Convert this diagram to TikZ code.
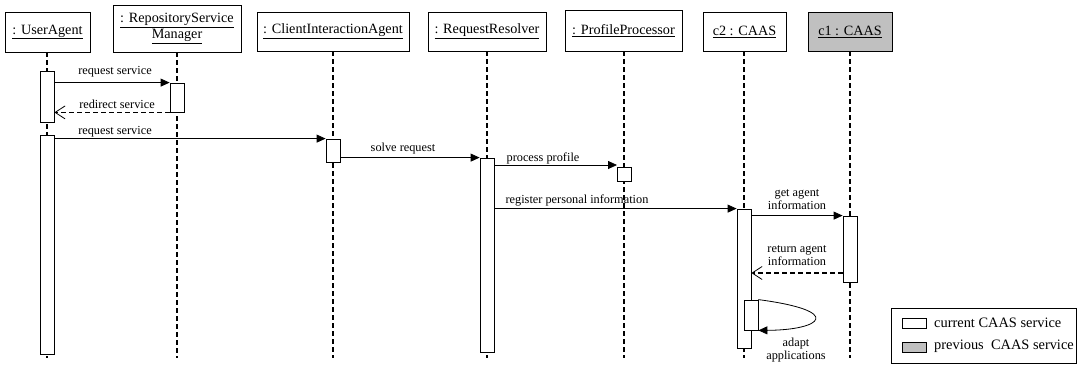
\documentclass[tikz,border=0pt]{standalone}
\usepackage{fontspec}
\setmainfont{Liberation Serif}
\usetikzlibrary{arrows.meta}
\begin{document}
\begin{tikzpicture}[x=1pt,y=-1pt,
  obj/.style={draw, line width=0.8pt, inner sep=1pt, align=center,
    font=\fontsize{14.2}{17}\selectfont},
  lifeline/.style={line width=1.3pt, dash pattern=on 5pt off 3pt},
  act/.style={draw, line width=0.8pt, fill=white, minimum width=14pt, inner sep=0pt},
  call/.style={line width=0.8pt, -{Triangle[length=9pt,width=8pt]}},
  reply/.style={line width=1.2pt, dash pattern=on 5pt off 3pt,
    -{Straight Barb[length=10pt,width=13pt,line width=0.8pt]}},
  lbl/.style={inner sep=0pt, align=center, font=\fontsize{12.3}{13}\selectfont},
  legtxt/.style={inner sep=0pt, anchor=west, font=\fontsize{14.4}{17}\selectfont},
  legbox/.style={draw, line width=0.8pt, minimum width=24pt, minimum height=10pt, inner sep=0pt}
]
\useasboundingbox (0,0) rectangle (1077,365);

% object boxes
\node[obj, minimum width=85pt, minimum height=40pt] (ua) at (47.5,32) {\underline{: UserAgent}};
\node[obj, minimum width=128pt, minimum height=47pt] (rsm) at (177,28.5) {\underline{: RepositoryService}\\[-1pt]\underline{Manager}};
\node[obj, minimum width=152pt, minimum height=39pt] (cia) at (333,31.5) {\underline{: ClientInteractionAgent}};
\node[obj, minimum width=118pt, minimum height=39pt] (rr) at (487,31.5) {\underline{: RequestResolver}};
\node[obj, minimum width=117pt, minimum height=41pt] (pp) at (623.5,30.5) {\underline{: ProfileProcessor}};
\node[obj, minimum width=83pt, minimum height=39pt] (c2) at (744.5,31.5) {\underline{c2 : CAAS}};
\node[obj, minimum width=84pt, minimum height=39pt, fill={rgb,255:red,192;green,192;blue,192}] (c1) at (850,31.5) {\underline{c1 : CAAS}};

% lifeline ends
\coordinate (uaend) at (47,358);
\coordinate (rsmend) at (177,358);
\coordinate (ciaend) at (333,358);
\coordinate (rrend) at (487,358);
\coordinate (ppend) at (624,358);
\coordinate (c2end) at (744,358);
\coordinate (c1end) at (850,358);

% lifelines
\draw[lifeline] (ua.south -| uaend) -- (uaend);
\draw[lifeline] (rsm.south -| rsmend) -- (rsmend);
\draw[lifeline] (cia.south -| ciaend) -- (ciaend);
\draw[lifeline] (rr.south -| rrend) -- (rrend);
\draw[lifeline] (pp.south -| ppend) -- (ppend);
\draw[lifeline] (c2.south -| c2end) -- (c2end);
\draw[lifeline] (c1.south -| c1end) -- (c1end);

% activation bars
\node[act, minimum height=51pt] (ua1) at (47,96.5) {};
\node[act, minimum height=29pt] (rsm1) at (177,97.5) {};
\node[act, minimum height=219pt] (ua2) at (47,244.5) {};
\node[act, minimum height=23pt] (cia1) at (333,150.5) {};
\node[act, minimum height=194pt] (rr1) at (487,255) {};
\node[act, minimum height=14pt] (pp1) at (624,174) {};
\node[act, minimum height=139pt] (c2a) at (744,278.5) {};
\node[act, minimum height=66pt] (c1a) at (850,249) {};
\node[act, minimum height=30pt] (c2s) at (751,315) {};

% messages
\draw[call] (ua1.east |- rsm1.north) -- (rsm1.north west);
\node[lbl] (m1) at (115,72) {request service};

\draw[reply] (rsm1.south west) -- (ua1.east |- rsm1.south);
\node[lbl] (m2) at (117,104) {redirect service};

\draw[call] (ua2.east |- cia1.north) -- (cia1.north west);
\node[lbl] (m3) at (115,132) {request service};

\draw[call] (cia1.east |- rr1.north) -- (rr1.north west);
\node[lbl] (m4) at (403,149) {solve request};

\coordinate (ppin) at (617,165);
\draw[call] (rr1.east |- ppin) -- (ppin);
\node[lbl] (m5) at (543,158) {process profile};

\draw[call] (rr1.east |- c2a.north) -- (c2a.north west);
\node[lbl] (m6) at (577,200) {register personal information};

\draw[call] (c2a.east |- c1a.north) -- (c1a.north west);
\node[lbl] (m7) at (797,199.5) {get agent\\[-0.5pt]information};

\coordinate (retlvl) at (0,273);
\draw[reply] (c1a.west |- retlvl) -- (c2a.east |- retlvl);
\node[lbl] (m8) at (797,255.5) {return agent\\[-0.5pt]information};

\draw[call] (c2s.north east) .. controls (845,311) and (822,330) .. (c2s.south east);
\node[lbl] (m9) at (796,350) {adapt\\[-0.5pt]applications};

% legend
\node[draw, line width=0.8pt, minimum width=185pt, minimum height=55pt, inner sep=0pt] (leg) at (983.5,335.5) {};
\node[legbox] (lcur) at (914,323) {};
\node[legbox, fill={rgb,255:red,192;green,192;blue,192}] (lprev) at (914,347) {};
\node[legtxt] (tcur) at (934,322.5) {current CAAS service};
\node[legtxt] (tprev) at (934,346.5) {previous~ CAAS service};
\end{tikzpicture}
\end{document}
